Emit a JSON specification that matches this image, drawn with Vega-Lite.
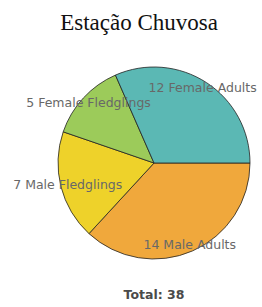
{
  "$schema": "https://vega.github.io/schema/vega-lite/v6.json",
  "autosize": {"type": "none"},
  "padding": {"left": 46, "top": 67, "right": 0, "bottom": 48},
  "width": 216,
  "height": 192,
  "background": "white",
  "title": {
    "text": "Estação Chuvosa",
    "font": "Liberation Serif",
    "fontSize": 23,
    "fontWeight": "normal",
    "color": "#111111",
    "anchor": "middle",
    "baseline": "alphabetic",
    "offset": 12,
    "dx": -15
  },
  "config": {"view": {"stroke": null}},
  "layer": [
    {
      "data": {"values": [
        {"group": "Male Adults", "count": 14, "order": 1, "label": "14 Male Adults"},
        {"group": "Male Fledglings", "count": 7, "order": 2, "label": "7 Male Fledglings"},
        {"group": "Female Fledglings", "count": 5, "order": 3, "label": "5 Female Fledglings"},
        {"group": "Female Adults", "count": 12, "order": 4, "label": "12 Female Adults"}
      ]},
      "encoding": {
        "theta": {"field": "count", "type": "quantitative", "stack": true, "scale": {"range": [1.5708, 7.854]}},
        "order": {"field": "order", "type": "quantitative"},
        "color": {
          "field": "group", "type": "nominal", "legend": null,
          "scale": {
            "domain": ["Male Adults", "Male Fledglings", "Female Fledglings", "Female Adults"],
            "range": ["#f0a83c", "#eed22a", "#9ccb5a", "#5bb8b4"]
          }
        }
      },
      "layer": [
        {"mark": {"type": "arc", "outerRadius": 96, "stroke": "#222222", "strokeWidth": 0.8}},
        {
          "mark": {"type": "text", "radius": 89, "font": "DejaVu Sans", "fontSize": 12.5, "align": "center", "baseline": "middle"},
          "encoding": {"text": {"field": "label"}, "color": {"value": "#686868"}}
        }
      ]
    },
    {
      "data": {"values": [{"total": "Total: 38"}]},
      "mark": {"type": "text", "font": "DejaVu Sans", "fontSize": 12.5, "fontWeight": "bold", "color": "#4a4a4a", "baseline": "middle", "align": "center"},
      "encoding": {
        "text": {"field": "total"},
        "theta": {"value": 3.14159},
        "radius": {"value": 132}
      }
    }
  ]
}
